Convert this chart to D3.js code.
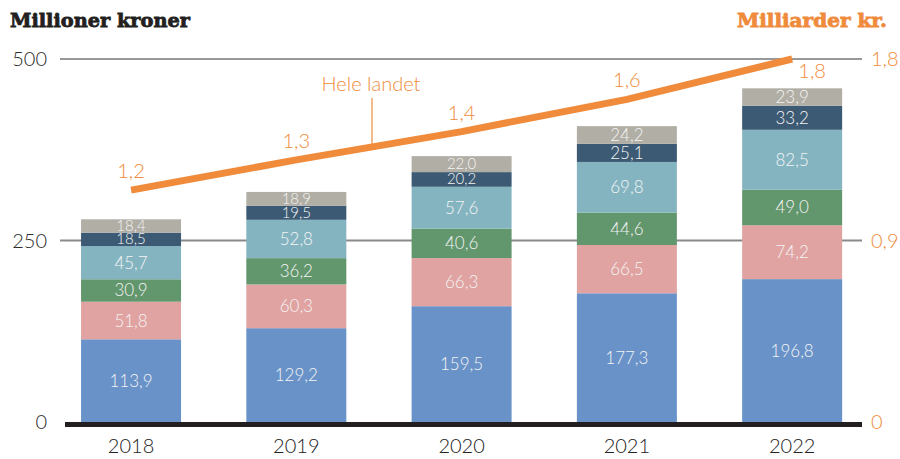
<!DOCTYPE html>
<html>
<head>
<meta charset="utf-8">
<script src="https://cdn.jsdelivr.net/npm/d3@7"></script>
<style>
  body { margin: 0; background: #fff; }
  svg { display: block; }
</style>
</head>
<body>
<div id="chart"></div>
<script>
// Data.
const years = ["2018", "2019", "2020", "2021", "2022"];
const seriesKeys = ["s1", "s2", "s3", "s4", "s5", "s6"];
const s1 = [113.9, 129.2, 159.5, 177.3, 196.8];
const s2 = [51.8, 60.3, 66.3, 66.5, 74.2];
const s3 = [30.9, 36.2, 40.6, 44.6, 49.0];
const s4 = [45.7, 52.8, 57.6, 69.8, 82.5];
const s5 = [18.5, 19.5, 20.2, 25.1, 33.2];
const s6 = [18.4, 18.9, 22.0, 24.2, 23.9];
const seriesColors = ["#6892c8", "#e0a3a2", "#62966c", "#85b4c1", "#3c5a73", "#b1aea5"];
// Hele landet, milliarder kr.
const total = [1.15, 1.30, 1.44, 1.60, 1.80];
const totalLabels = ["1,2", "1,3", "1,4", "1,6", "1,8"];
const leftTicks = [0, 250, 500];
const rightTicks = [0, 0.9, 1.8];

const width = 900, height = 459;
const orange = "#ef8b3b";
const lightFont = "Lato, 'Open Sans', sans-serif";
const fmt = v => d3.format(".1f")(v).replace(".", ",");

const svg = d3.select("#chart").append("svg")
  .attr("width", width)
  .attr("height", height);

// Build stack rows.
const cols = [s1, s2, s3, s4, s5, s6];
const rows = years.map((y, i) => {
  const r = { year: y };
  seriesKeys.forEach((k, j) => r[k] = cols[j][i]);
  return r;
});
const stacked = d3.stack().keys(seriesKeys)(rows);
const color = d3.scaleOrdinal().domain(seriesKeys).range(seriesColors);

// Scales.
const x = d3.scaleBand()
  .domain(years)
  .range([48, 875.2])
  .paddingInner(0.395)
  .paddingOuter(0.2);
const y = d3.scaleLinear().domain([0, 500]).range([422, 59]);
const yR = d3.scaleLinear().domain([0, 1.8]).range([422, 59]);

// Gridlines.
svg.append("line")
  .attr("x1", 60).attr("x2", 862)
  .attr("y1", y(500)).attr("y2", y(500))
  .attr("stroke", "#333").attr("stroke-width", 1.2);
svg.append("line")
  .attr("x1", 60).attr("x2", 862)
  .attr("y1", y(250)).attr("y2", y(250))
  .attr("stroke", "#8a8a8a").attr("stroke-width", 2);

// Bars.
const layer = svg.append("g").selectAll("g")
  .data(stacked)
  .join("g")
  .attr("fill", d => color(d.key));
layer.selectAll("rect")
  .data(d => d)
  .join("rect")
  .attr("x", d => x(d.data.year))
  .attr("y", d => y(d[1]))
  .attr("width", x.bandwidth())
  .attr("height", d => y(d[0]) - y(d[1]));

// Segment labels (thin segments get a slightly smaller text).
svg.append("g").selectAll("g")
  .data(stacked)
  .join("g")
  .selectAll("text")
  .data(d => d)
  .join("text")
  .attr("x", d => x(d.data.year) + x.bandwidth() / 2)
  .attr("y", d => (y(d[0]) + y(d[1])) / 2 + (y(d[0]) - y(d[1]) < 16 ? 5 : 6))
  .attr("text-anchor", "middle")
  .style("font-family", lightFont)
  .style("font-weight", 300)
  .style("font-size", d => (y(d[0]) - y(d[1]) < 16 ? "15px" : "17px"))
  .attr("fill", "#f4f4f4")
  .text(d => fmt(d[1] - d[0]));

// Baseline.
svg.append("line")
  .attr("x1", 65).attr("x2", 862)
  .attr("y1", y(0) + 2.5).attr("y2", y(0) + 2.5)
  .attr("stroke", "#231f20").attr("stroke-width", 5);

// Left axis labels.
svg.append("g").selectAll("text")
  .data(leftTicks)
  .join("text")
  .attr("x", 47)
  .attr("y", d => y(d) + 7)
  .attr("text-anchor", "end")
  .style("font-family", lightFont)
  .style("font-weight", 300)
  .style("font-size", "20px")
  .attr("fill", "#2b2b2b")
  .text(d => d);

// Right axis labels.
svg.append("g").selectAll("text")
  .data(rightTicks)
  .join("text")
  .attr("x", 871)
  .attr("y", d => yR(d) + 7)
  .attr("text-anchor", "start")
  .style("font-family", lightFont)
  .style("font-weight", 300)
  .style("font-size", "20px")
  .attr("fill", orange)
  .text(d => d === 0 ? "0" : d3.format(".1f")(d).replace(".", ","));

// Year labels.
svg.append("g").selectAll("text")
  .data(years)
  .join("text")
  .attr("x", d => x(d) + x.bandwidth() / 2)
  .attr("y", 453)
  .attr("text-anchor", "middle")
  .style("font-family", lightFont)
  .style("font-weight", 300)
  .style("font-size", "20px")
  .attr("fill", "#222")
  .text(d => d);

// Total line.
const lineData = years.map((yr, i) => ({ year: yr, v: total[i], label: totalLabels[i] }));
svg.append("path")
  .datum(lineData)
  .attr("fill", "none")
  .attr("stroke", orange)
  .attr("stroke-width", 7)
  .attr("d", d3.line()
    .x(d => x(d.year) + x.bandwidth() / 2)
    .y(d => yR(d.v)));

svg.append("g").selectAll("text")
  .data(lineData)
  .join("text")
  .attr("x", (d, i) => x(d.year) + x.bandwidth() / 2 + (i === 4 ? 20 : 0))
  .attr("y", (d, i) => i === 4 ? yR(d.v) + 19 : yR(d.v) - 12)
  .attr("text-anchor", "middle")
  .style("font-family", lightFont)
  .style("font-weight", 300)
  .style("font-size", "20px")
  .attr("fill", orange)
  .text(d => d.label);

// Series name with leader line.
svg.append("line")
  .attr("x1", 372).attr("x2", 372)
  .attr("y1", 98).attr("y2", 144)
  .attr("stroke", orange).attr("stroke-width", 1.2);
svg.append("text")
  .attr("x", 371)
  .attr("y", 91)
  .attr("text-anchor", "middle")
  .style("font-family", lightFont)
  .style("font-weight", 300)
  .style("font-size", "20px")
  .attr("fill", orange)
  .text("Hele landet");

// Titles (slab serif, thickened with a stroke).
svg.append("text")
  .attr("x", 10)
  .attr("y", 27)
  .attr("textLength", 180)
  .attr("lengthAdjust", "spacingAndGlyphs")
  .style("font-family", "'DejaVu Serif', serif")
  .style("font-weight", 700)
  .style("font-size", "19px")
  .attr("fill", "#231f20")
  .attr("stroke", "#231f20")
  .attr("stroke-width", 0.8)
  .text("Millioner kroner");
svg.append("text")
  .attr("x", 887)
  .attr("y", 27)
  .attr("text-anchor", "end")
  .attr("textLength", 150)
  .attr("lengthAdjust", "spacingAndGlyphs")
  .style("font-family", "'DejaVu Serif', serif")
  .style("font-weight", 700)
  .style("font-size", "19px")
  .attr("fill", orange)
  .attr("stroke", orange)
  .attr("stroke-width", 0.8)
  .text("Milliarder kr.");
</script>
</body>
</html>
